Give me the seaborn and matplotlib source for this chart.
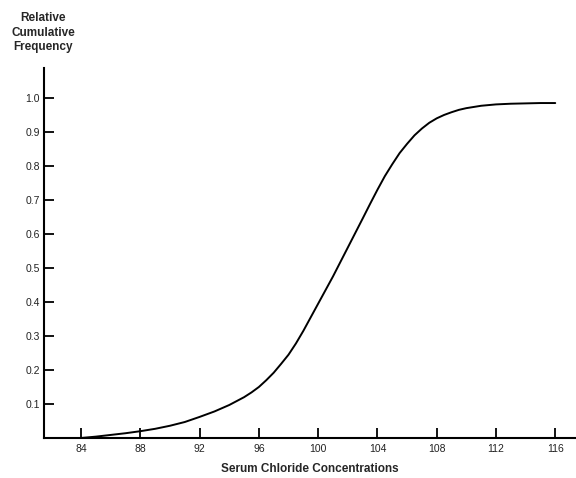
import matplotlib
matplotlib.use("Agg")
import matplotlib.pyplot as plt
import seaborn as sns
import pandas as pd

# Serum chloride concentration (mmol/L) and relative cumulative frequency
chloride = [84, 85, 86, 87, 88, 89, 90, 91, 92, 93, 94, 95, 95.5, 96, 96.5, 97, 97.5,
            98, 98.5, 99, 99.5, 100, 101, 102, 103, 103.5, 104, 104.5, 105, 105.5, 106,
            106.5, 107, 107.5, 108, 108.5, 109, 109.5, 110, 111, 112, 113, 114, 115, 116]
cum_freq = [0.0, 0.004, 0.009, 0.014, 0.02, 0.027, 0.036, 0.047, 0.062, 0.078, 0.097,
            0.12, 0.134, 0.15, 0.17, 0.192, 0.218, 0.245, 0.278, 0.315, 0.355, 0.395,
            0.475, 0.56, 0.645, 0.688, 0.73, 0.77, 0.805, 0.838, 0.865, 0.89, 0.91,
            0.927, 0.94, 0.95, 0.958, 0.965, 0.97, 0.977, 0.981, 0.983, 0.984, 0.985,
            0.985]

x_ticks = [84, 88, 92, 96, 100, 104, 108, 112, 116]
y_ticks = [0.1, 0.2, 0.3, 0.4, 0.5, 0.6, 0.7, 0.8, 0.9, 1.0]

sns.set_style("ticks")
plt.rcParams["font.family"] = ["Liberation Sans", "DejaVu Sans"]

df = pd.DataFrame({"chloride": chloride, "cum_freq": cum_freq})

fig = plt.figure(figsize=(5.76, 4.78), dpi=100)
ax = fig.add_axes([0.0764, 0.0837, 0.9236, 0.774])

sns.lineplot(data=df, x="chloride", y="cum_freq", ax=ax, color="black", linewidth=1.4)
ax.lines[0].set_solid_joinstyle("round")

ax.set_xlim(81.5, 117.4)
ax.set_ylim(0, 1.088)
ax.set_xticks(x_ticks)
ax.set_xticklabels([str(v) for v in x_ticks])
ax.set_yticks(y_ticks)
ax.set_yticklabels([f"{v:.1f}" for v in y_ticks])

for side in ("top", "right"):
    ax.spines[side].set_visible(False)
for side in ("left", "bottom"):
    ax.spines[side].set_linewidth(1.5)
    ax.spines[side].set_color("black")

ax.tick_params(axis="both", direction="in", length=7.5, width=1.3, colors="black",
               labelsize=7.5, labelcolor="#222222")
ax.tick_params(axis="x", pad=4)
ax.tick_params(axis="y", pad=3)

ax.set_xlabel("Serum Chloride Concentrations", fontsize=8.5, fontweight="bold", labelpad=7)
ax.set_ylabel("")
fig.text(0.075, 0.975, "Relative\nCumulative\nFrequency", ha="center", va="top",
         fontsize=8.5, fontweight="bold", linespacing=1.3)

fig.savefig("out.png", dpi=100)
